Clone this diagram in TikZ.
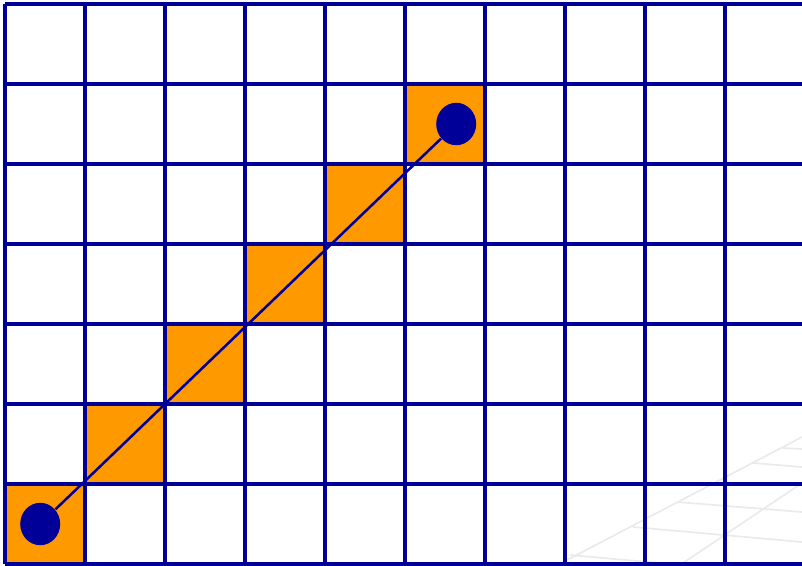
\documentclass[tikz,border=0pt]{standalone}
\usepackage{xcolor}
\usepackage{tikz}
\usetikzlibrary{shapes.geometric}

\definecolor{gridblue}{RGB}{0,0,153}
\definecolor{cellorange}{RGB}{255,153,0}
\definecolor{faintgray}{RGB}{234,234,234}

\begin{document}
\begin{tikzpicture}[
    gridline/.style={draw=gridblue, line width=1.1pt},
    cellfill/.style={fill=cellorange},
    dot/.style={ellipse, fill=gridblue, inner sep=0pt, minimum width=0.5cm, minimum height=0.53cm},
    faint/.style={draw=faintgray, line width=0.6pt}]
  \useasboundingbox (-0.0625,-0.0125) rectangle (9.9625,7.05);

  % faint floor pattern, bottom right
  \draw[faint] (7.025,0.05) -- (9.9625,1.5875);
  \draw[faint] (8.475,0.0125) -- (9.9625,1.0125);
  \draw[faint] (7.0625,0.1125) -- (8.1875,0.0125);
  \draw[faint] (7.85,0.4625) -- (9.9625,0.275);
  \draw[faint] (8.4,0.775) -- (9.9625,0.65);
  \draw[faint] (9.35,1.2625) -- (9.9625,1.2125);
  \draw[faint] (9.725,1.45) -- (9.9625,1.4375);

  % cells hit by the line
  \foreach \i in {0,...,5}
    \fill[cellfill] (\i,\i) rectangle ++(1,1);

  \draw[gridline] (0,0) grid (9.9625,7);

  \node[dot] (start) at (0.44,0.5) {};
  \node[dot] (end) at (5.64,5.5) {};
  \draw[gridblue, line width=0.9pt] (start) -- (end);
\end{tikzpicture}
\end{document}
